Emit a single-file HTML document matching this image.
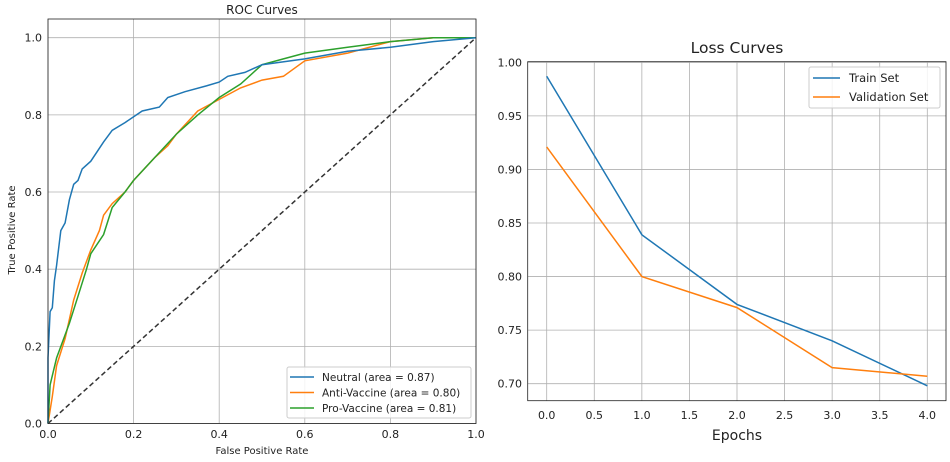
<!DOCTYPE html>
<html><head><meta charset="utf-8"><style>
body{margin:0;background:#fff;width:950px;height:457px;overflow:hidden}
svg{font-family:"DejaVu Sans","Liberation Sans",sans-serif}
</style></head><body>
<svg id="c" width="950" height="457"></svg>
<script>
const rocTicks=[0,0.2,0.4,0.6,0.8,1.0];
const neutralX=[0,0,0.005,0.01,0.015,0.02,0.03,0.04,0.05,0.06,0.07,0.08,0.1,0.13,0.15,0.18,0.22,0.26,0.28,0.32,0.37,0.4,0.42,0.46,0.5,0.6,0.7,0.8,0.9,1];
const neutralY=[0,0.17,0.29,0.30,0.37,0.41,0.5,0.52,0.58,0.62,0.63,0.66,0.68,0.73,0.76,0.78,0.81,0.82,0.845,0.86,0.875,0.885,0.9,0.91,0.93,0.945,0.965,0.975,0.99,1];
const antiX=[0,0.01,0.02,0.04,0.06,0.08,0.1,0.12,0.13,0.15,0.18,0.2,0.25,0.28,0.3,0.35,0.4,0.45,0.5,0.55,0.6,0.7,0.8,0.9,1];
const antiY=[0,0.07,0.15,0.22,0.32,0.39,0.45,0.5,0.54,0.57,0.6,0.63,0.69,0.72,0.75,0.81,0.84,0.87,0.89,0.9,0.94,0.96,0.99,1,1];
const proX=[0,0.005,0.02,0.05,0.07,0.09,0.1,0.13,0.15,0.18,0.2,0.25,0.3,0.35,0.4,0.45,0.5,0.55,0.6,0.7,0.8,0.9,1];
const proY=[0,0.1,0.17,0.26,0.33,0.4,0.44,0.49,0.56,0.6,0.63,0.69,0.75,0.8,0.845,0.88,0.93,0.945,0.96,0.975,0.99,1,1];
const epochs=[0,1,2,3,4];
const trainLoss=[0.987,0.839,0.774,0.740,0.698];
const valLoss=[0.921,0.800,0.771,0.715,0.707];
const lossXTicks=[0,0.5,1,1.5,2,2.5,3,3.5,4];
const lossYTicks=[0.70,0.75,0.80,0.85,0.90,0.95,1.00];

const NS="http://www.w3.org/2000/svg";
const svg=document.getElementById('c');
function mk(tag,attrs,parent,txt){const e=document.createElementNS(NS,tag);for(const k in attrs)e.setAttribute(k,attrs[k]);if(txt!==undefined)e.textContent=txt;(parent||svg).appendChild(e);return e;}

// ROC axes
const L={x0:48,x1:476,y0:423.5,y1:37.7};
const rx=v=>L.x0+v*(L.x1-L.x0), ry=v=>L.y0-v*(L.y0-L.y1);
const g1=mk('g',{});
rocTicks.forEach(t=>{
 let l=mk('line',{x1:rx(t),x2:rx(t),y1:19,y2:423.5,stroke:'#b0b0b0','stroke-width':0.8},g1);
 l=mk('line',{x1:48,x2:476,y1:ry(t),y2:ry(t),stroke:'#b0b0b0','stroke-width':0.8},g1);
 let s=mk('text',{x:rx(t),y:438,'font-size':11,'text-anchor':'middle',fill:'#222'},g1,t.toFixed(1));
 s=mk('text',{x:42,y:ry(t)+4,'font-size':11,'text-anchor':'end',fill:'#222'},g1,t.toFixed(1));
});
let d=mk('line',{x1:rx(0),y1:ry(0),x2:rx(1),y2:ry(1),stroke:'#333','stroke-width':1.5,'stroke-dasharray':'5,3'},g1);
function poly(xs,ys,fx,fy,color,name,parent){const p=xs.map((x,i)=>fx(x).toFixed(1)+','+fy(ys[i]).toFixed(1)).join(' ');const e=mk('polyline',{points:p,fill:'none',stroke:color,'stroke-width':1.5},parent);}
poly(antiX,antiY,rx,ry,'#ff7f0e','anti-vaccine-roc',g1);
poly(proX,proY,rx,ry,'#2ca02c','pro-vaccine-roc',g1);
poly(neutralX,neutralY,rx,ry,'#1f77b4','neutral-roc',g1);
mk('rect',{x:48,y:19,width:428,height:404.5,fill:'none',stroke:'#222','stroke-width':0.8},g1);
let t=mk('text',{x:262,y:14,'font-size':12,'text-anchor':'middle',fill:'#222'},g1,'ROC Curves');
t=mk('text',{x:262,y:454,'font-size':10,'text-anchor':'middle',fill:'#222'},g1,'False Positive Rate');
t=mk('text',{x:15,y:230,'font-size':10,'text-anchor':'middle',fill:'#222',transform:'rotate(-90 15 230)'},g1,'True Positive Rate');
const lg=mk('g',{},g1);
mk('rect',{x:287,y:367,width:184,height:51,fill:'#fff','fill-opacity':0.85,stroke:'#ccc',rx:2},lg);
[['Neutral (area = 0.87)','#1f77b4'],['Anti-Vaccine (area = 0.80)','#ff7f0e'],['Pro-Vaccine (area = 0.81)','#2ca02c']].forEach((e,i)=>{
 const y=377+i*15.5;mk('line',{x1:290,x2:314,y1:y,y2:y,stroke:e[1],'stroke-width':1.5},lg);
 const s=mk('text',{x:322,y:y+4,'font-size':10.5,fill:'#222'},lg,e[0]);
});

// Loss axes
const R={x0:546.7,x1:927.3,y0:383.7,y1:62.3};
const lx=v=>R.x0+v/4*(R.x1-R.x0), ly=v=>R.y0-(v-0.70)/0.30*(R.y0-R.y1);
const g2=mk('g',{});
lossXTicks.forEach(v=>{let l=mk('line',{x1:lx(v),x2:lx(v),y1:61.7,y2:400.7,stroke:'#b0b0b0','stroke-width':0.8},g2);
 const s=mk('text',{x:lx(v),y:419,'font-size':11,'text-anchor':'middle',fill:'#222'},g2,v.toFixed(1));});
lossYTicks.forEach(v=>{let l=mk('line',{x1:527.7,x2:946,y1:ly(v),y2:ly(v),stroke:'#b0b0b0','stroke-width':0.8},g2);
 const s=mk('text',{x:522,y:ly(v)+4,'font-size':11,'text-anchor':'end',fill:'#222'},g2,v.toFixed(2));});
poly(epochs,trainLoss,lx,ly,'#1f77b4','train-loss-line',g2);
poly(epochs,valLoss,lx,ly,'#ff7f0e','validation-loss-line',g2);
mk('rect',{x:527.7,y:61.7,width:418.3,height:339,fill:'none',stroke:'#222','stroke-width':0.8},g2);
t=mk('text',{x:737,y:53,'font-size':15.5,'text-anchor':'middle',fill:'#222'},g2,'Loss Curves');
t=mk('text',{x:737,y:440,'font-size':14,'text-anchor':'middle',fill:'#222'},g2,'Epochs');
const lg2=mk('g',{},g2);
mk('rect',{x:809,y:67,width:131,height:41,fill:'#fff','fill-opacity':0.85,stroke:'#ccc',rx:2},lg2);
[['Train Set','#1f77b4'],['Validation Set','#ff7f0e']].forEach((e,i)=>{const y=78+i*19;mk('line',{x1:813,x2:840,y1:y,y2:y,stroke:e[1],'stroke-width':1.5},lg2);
 const s=mk('text',{x:849,y:y+4,'font-size':11.5,fill:'#222'},lg2,e[0]);});
</script>
</body></html>
